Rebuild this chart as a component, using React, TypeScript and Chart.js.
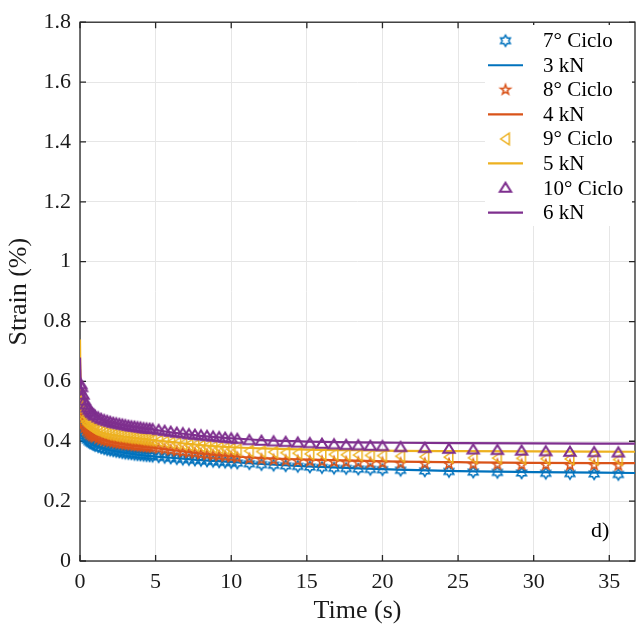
import React, { useEffect, useRef } from 'react';
import { Chart, registerables } from 'chart.js';

Chart.register(...registerables);

// ---------------- data ----------------
const T_MARK = [
  0, 0.05, 0.1,
  0.2, 0.3, 0.4, 0.5, 0.6, 0.7, 0.8, 0.9, 1.0,
  1.2, 1.4, 1.6, 1.8, 2.0, 2.2, 2.4, 2.6, 2.8, 3.0, 3.2, 3.4, 3.6, 3.8, 4.0, 4.2, 4.4, 4.6, 4.8,
  5.2, 5.6, 6.0, 6.4, 6.8, 7.2, 7.6, 8.0, 8.4, 8.8, 9.2, 9.6, 10.0, 10.4,
  11.2, 12.0, 12.8, 13.6, 14.4, 15.2, 16.0, 16.8, 17.6, 18.4, 19.2, 20.0,
  21.2,
  22.8, 24.4, 26.0, 27.6, 29.2, 30.8, 32.4, 34.0, 35.6,
];

const CICLO7 = [
  0.50, 0.47, 0.45,
  0.43, 0.418, 0.41, 0.404, 0.399, 0.395, 0.392, 0.389, 0.386,
  0.382, 0.378, 0.375, 0.372, 0.37, 0.368, 0.366, 0.364, 0.362, 0.36, 0.359, 0.358, 0.356, 0.355, 0.354, 0.353, 0.352, 0.351, 0.35,
  0.348, 0.346, 0.344, 0.342, 0.34, 0.339, 0.337, 0.336, 0.334, 0.333, 0.331, 0.33, 0.329, 0.327,
  0.325, 0.322, 0.32, 0.318, 0.316, 0.314, 0.312, 0.31, 0.309, 0.307, 0.306, 0.305,
  0.303,
  0.301, 0.299, 0.297, 0.296, 0.294, 0.293, 0.292, 0.291, 0.289,
];

const CICLO8 = [
  0.53, 0.50, 0.48,
  0.458, 0.445, 0.436, 0.43, 0.425, 0.421, 0.418, 0.415, 0.413,
  0.409, 0.405, 0.402, 0.40, 0.398, 0.396, 0.394, 0.392, 0.391, 0.389, 0.388, 0.387, 0.385, 0.384, 0.383, 0.382, 0.381, 0.38, 0.379,
  0.376, 0.373, 0.37, 0.367, 0.364, 0.362, 0.36, 0.357, 0.355, 0.353, 0.351, 0.349, 0.347, 0.345,
  0.341, 0.339, 0.337, 0.335, 0.334, 0.333, 0.332, 0.331, 0.33, 0.329, 0.328, 0.327,
  0.326,
  0.325, 0.324, 0.323, 0.322, 0.321, 0.321, 0.32, 0.32, 0.319,
];

const CICLO9 = [
  0.55, 0.53, 0.51,
  0.49, 0.475, 0.465, 0.458, 0.453, 0.449, 0.445, 0.442, 0.44,
  0.435, 0.431, 0.428, 0.425, 0.423, 0.421, 0.419, 0.418, 0.416, 0.415, 0.413, 0.412, 0.411, 0.41, 0.408, 0.407, 0.406, 0.405, 0.404,
  0.401, 0.398, 0.395, 0.393, 0.39, 0.388, 0.386, 0.384, 0.382, 0.38, 0.378, 0.376, 0.374, 0.372,
  0.368, 0.366, 0.364, 0.362, 0.36, 0.358, 0.357, 0.356, 0.355, 0.354, 0.353, 0.352,
  0.35,
  0.348, 0.347, 0.345, 0.344, 0.343, 0.342, 0.341, 0.34, 0.339,
];

const CICLO10 = [
  0.57, 0.59, 0.58,
  0.555, 0.535, 0.522, 0.512, 0.505, 0.499, 0.494, 0.489, 0.485,
  0.479, 0.474, 0.47, 0.467, 0.464, 0.461, 0.459, 0.457, 0.455, 0.453, 0.451, 0.449, 0.448, 0.446, 0.445, 0.443, 0.442, 0.441, 0.44,
  0.437, 0.434, 0.431, 0.428, 0.426, 0.423, 0.421, 0.419, 0.417, 0.415, 0.413, 0.411, 0.409, 0.407,
  0.403, 0.401, 0.399, 0.397, 0.395, 0.393, 0.391, 0.389, 0.387, 0.386, 0.384, 0.383,
  0.38,
  0.377, 0.374, 0.372, 0.37, 0.368, 0.366, 0.364, 0.363, 0.362,
];

const T_LINE = [0, 0.05, 0.1, 0.2, 0.3, 0.5, 0.75, 1, 1.5, 2, 3, 4, 5, 6, 7, 8, 10, 12, 15, 18, 21, 25, 30, 36.7];
const KN3 = [0.60, 0.47, 0.45, 0.43, 0.419, 0.405, 0.394, 0.387, 0.377, 0.37, 0.361, 0.354, 0.349, 0.345, 0.341, 0.337, 0.331, 0.324, 0.316, 0.31, 0.305, 0.3, 0.297, 0.294];
const KN4 = [0.64, 0.50, 0.48, 0.458, 0.446, 0.431, 0.42, 0.413, 0.404, 0.398, 0.389, 0.382, 0.377, 0.371, 0.365, 0.359, 0.35, 0.344, 0.339, 0.335, 0.332, 0.33, 0.328, 0.327];
const KN5 = [0.74, 0.53, 0.51, 0.49, 0.476, 0.459, 0.448, 0.44, 0.429, 0.423, 0.415, 0.409, 0.403, 0.398, 0.392, 0.387, 0.38, 0.376, 0.372, 0.37, 0.368, 0.367, 0.366, 0.365];
const KN6 = [0.68, 0.59, 0.575, 0.553, 0.535, 0.512, 0.496, 0.485, 0.472, 0.464, 0.453, 0.445, 0.438, 0.43, 0.424, 0.418, 0.41, 0.404, 0.399, 0.396, 0.395, 0.394, 0.393, 0.392];

const MARK_LABELS = ['7° Ciclo', '8° Ciclo', '9° Ciclo', '10° Ciclo'];
const LINE_LABELS = ['3 kN', '4 kN', '5 kN', '6 kN'];

const X_TICKS = [0, 5, 10, 15, 20, 25, 30, 35];
const X_TICK_LABELS = ['0', '5', '10', '15', '20', '25', '30', '35'];
const Y_TICKS = [0, 0.2, 0.4, 0.6, 0.8, 1, 1.2, 1.4, 1.6, 1.8];
const Y_TICK_LABELS = ['0', '0.2', '0.4', '0.6', '0.8', '1', '1.2', '1.4', '1.6', '1.8'];

const X_TITLE = 'Time (s)';
const Y_TITLE = 'Strain (%)';
const PANEL_TAG = 'd)';
const PANEL_TAG_POS = { x: 34.4, y: 0.1 };

// ---------------- styles ----------------
const COLORS = ['#0072BD', '#D95319', '#EDB120', '#7E2F8E'];
const MARKER_KINDS = ['hexagram', 'pentagram', 'left', 'up'];
const MARKER_LW = [1.5, 1.5, 1.5, 2.1];
const FONT = "'Liberation Serif', 'Times New Roman', serif";
const AXIS_COLOR = '#262626';
const GRID_COLOR = '#e6e6e6';
const TICK_LEN = 6;
const CANVAS_W = 641;
const CANVAS_H = 631;

const LEGEND_BOX = { x: 485, y: 25, w: 147, h: 201 };
const LEGEND_ROW0 = 40.7;
const LEGEND_ROW_H = 24.55;
const LEGEND_LINE_X = [488, 523];
const LEGEND_TEXT_X = 543;

function makeMarker(kind: string, color: string, lw: number): HTMLCanvasElement {
  const c = document.createElement('canvas');
  c.width = 18;
  c.height = 18;
  const g = c.getContext('2d')!;
  g.strokeStyle = color;
  g.lineWidth = lw;
  g.lineJoin = 'miter';
  const cx = 9, cy = 9;
  g.beginPath();
  if (kind === 'hexagram' || kind === 'pentagram') {
    const n = kind === 'hexagram' ? 6 : 5;
    const R = kind === 'hexagram' ? 5.6 : 5.2;
    const r = kind === 'hexagram' ? R / Math.sqrt(3) : R * 0.4;
    for (let k = 0; k < 2 * n; k++) {
      const ang = -Math.PI / 2 + (k * Math.PI) / n;
      const rad = k % 2 === 0 ? R : r;
      const px = cx + rad * Math.cos(ang);
      const py = cy + rad * Math.sin(ang);
      if (k === 0) g.moveTo(px, py);
      else g.lineTo(px, py);
    }
  } else if (kind === 'left') {
    g.moveTo(cx - 4.8, cy);
    g.lineTo(cx + 3.8, cy - 5.8);
    g.lineTo(cx + 3.8, cy + 5.8);
  } else {
    g.moveTo(cx, cy - 5.3);
    g.lineTo(cx + 5.6, cy + 3.8);
    g.lineTo(cx - 5.6, cy + 3.8);
  }
  g.closePath();
  g.stroke();
  return c;
}

export default function App() {
  const ref = useRef<HTMLCanvasElement>(null);

  useEffect(() => {
    const canvas = ref.current;
    if (!canvas) return;
    const markers = MARKER_KINDS.map((k, i) => makeMarker(k, COLORS[i], MARKER_LW[i]));
    const markSeries = [CICLO7, CICLO8, CICLO9, CICLO10];
    const lineSeries = [KN3, KN4, KN5, KN6];

    const datasets: any[] = [];
    const legendItems: any[] = [];
    for (let i = 0; i < 4; i++) {
      datasets.push({
        label: MARK_LABELS[i],
        data: T_MARK.map((t, j) => ({ x: t, y: markSeries[i][j] })),
        showLine: false,
        pointStyle: markers[i],
        pointRadius: 5,
        borderColor: COLORS[i],
        backgroundColor: 'transparent',
        order: 8 - 2 * i,
      });
      legendItems.push({ type: 'marker', label: MARK_LABELS[i], img: markers[i], color: COLORS[i] });
      datasets.push({
        label: LINE_LABELS[i],
        data: T_LINE.map((t, j) => ({ x: t, y: lineSeries[i][j] })),
        showLine: true,
        pointRadius: 0,
        borderColor: COLORS[i],
        borderWidth: 2.2,
        cubicInterpolationMode: 'monotone',
        fill: false,
        order: 7 - 2 * i,
      });
      legendItems.push({ type: 'line', label: LINE_LABELS[i], color: COLORS[i] });
    }

    const boxPlugin = {
      id: 'matlabBox',
      beforeDatasetsDraw(chart: any) {
        const { ctx, chartArea: a, scales } = chart;
        ctx.save();
        ctx.strokeStyle = AXIS_COLOR;
        ctx.lineWidth = 1.3;
        ctx.strokeRect(a.left, a.top, a.right - a.left, a.bottom - a.top);
        ctx.beginPath();
        for (const v of X_TICKS) {
          const px = scales.x.getPixelForValue(v);
          ctx.moveTo(px, a.bottom);
          ctx.lineTo(px, a.bottom - TICK_LEN);
          ctx.moveTo(px, a.top);
          ctx.lineTo(px, a.top + TICK_LEN);
        }
        for (const v of Y_TICKS) {
          const py = scales.y.getPixelForValue(v);
          ctx.moveTo(a.left, py);
          ctx.lineTo(a.left + TICK_LEN, py);
          ctx.moveTo(a.right, py);
          ctx.lineTo(a.right - TICK_LEN, py);
        }
        ctx.stroke();
        ctx.restore();
      },
      afterDatasetsDraw(chart: any) {
        const { ctx, scales } = chart;
        ctx.save();
        ctx.fillStyle = '#ffffff';
        ctx.fillRect(LEGEND_BOX.x, LEGEND_BOX.y, LEGEND_BOX.w, LEGEND_BOX.h);
        ctx.font = `21px ${FONT}`;
        ctx.textBaseline = 'middle';
        ctx.textAlign = 'left';
        legendItems.forEach((it, i) => {
          const y = LEGEND_ROW0 + i * LEGEND_ROW_H;
          if (it.type === 'marker') {
            const cx = (LEGEND_LINE_X[0] + LEGEND_LINE_X[1]) / 2;
            ctx.drawImage(it.img, cx - it.img.width / 2, y - it.img.height / 2);
          } else {
            ctx.strokeStyle = it.color;
            ctx.lineWidth = 2.2;
            ctx.beginPath();
            ctx.moveTo(LEGEND_LINE_X[0], y);
            ctx.lineTo(LEGEND_LINE_X[1], y);
            ctx.stroke();
          }
          ctx.fillStyle = '#000000';
          ctx.fillText(it.label, LEGEND_TEXT_X, y + 1);
        });
        ctx.font = `22px ${FONT}`;
        ctx.textAlign = 'center';
        ctx.fillStyle = '#000000';
        ctx.fillText(
          PANEL_TAG,
          scales.x.getPixelForValue(PANEL_TAG_POS.x),
          scales.y.getPixelForValue(PANEL_TAG_POS.y)
        );
        ctx.restore();
      },
    };

    const chart = new Chart(canvas, {
      type: 'line',
      data: { datasets },
      options: {
        animation: false,
        responsive: false,
        events: [],
        layout: { padding: { left: 0, right: 1, top: 14, bottom: 0 } },
        plugins: { legend: { display: false }, tooltip: { enabled: false } },
        scales: {
          x: {
            type: 'linear',
            min: 0,
            max: 36.7,
            afterBuildTicks: (s: any) => {
              s.ticks = X_TICKS.map((v) => ({ value: v }));
            },
            afterFit: (s: any) => {
              s.height = 70;
            },
            ticks: {
              autoSkip: false,
              maxRotation: 0,
              padding: 8,
              color: '#1a1a1a',
              font: { family: FONT, size: 22 },
              callback: (v: any) => X_TICK_LABELS[X_TICKS.indexOf(Number(v))],
            },
            grid: { color: GRID_COLOR, lineWidth: 1, drawTicks: false },
            border: { display: false },
            title: {
              display: true,
              text: X_TITLE,
              color: '#1a1a1a',
              font: { family: FONT, size: 26 },
              padding: { top: 0, bottom: 4 },
            },
          },
          y: {
            type: 'linear',
            min: 0,
            max: 1.8,
            afterBuildTicks: (s: any) => {
              s.ticks = Y_TICKS.map((v) => ({ value: v }));
            },
            afterFit: (s: any) => {
              s.width = 80;
            },
            ticks: {
              autoSkip: false,
              padding: 9,
              color: '#1a1a1a',
              font: { family: FONT, size: 22 },
              callback: (v: any) => {
                const idx = Y_TICKS.findIndex((t) => Math.abs(t - Number(v)) < 1e-9);
                return Y_TICK_LABELS[idx];
              },
            },
            grid: { color: GRID_COLOR, lineWidth: 1, drawTicks: false },
            border: { display: false },
            title: {
              display: true,
              text: Y_TITLE,
              color: '#1a1a1a',
              font: { family: FONT, size: 26 },
              padding: { top: 4, bottom: 0 },
            },
          },
        },
      } as any,
      plugins: [boxPlugin],
    });

    return () => chart.destroy();
  }, []);

  return (
    <canvas
      ref={ref}
      width={CANVAS_W}
      height={CANVAS_H}
      style={{ position: 'fixed', left: 0, top: 0, width: CANVAS_W, height: CANVAS_H }}
    />
  );
}
